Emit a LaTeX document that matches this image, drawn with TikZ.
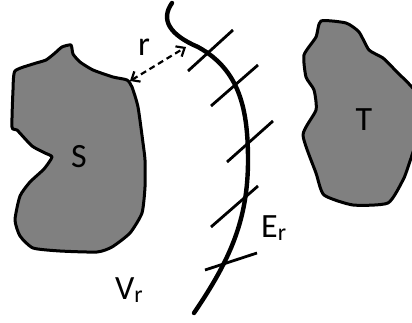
\documentclass[tikz,border=0pt]{standalone}
\usepackage{fontspec}
\setmainfont{Carlito}
\usetikzlibrary{arrows.meta}
\begin{document}
\begin{tikzpicture}[x=1pt,y=-1pt,
  blob/.style={draw=black,fill=black!50,line width=3pt,line join=round},
  curveline/.style={line width=4.4pt,line cap=round},
  tick/.style={line width=2.8pt},
  lbl/.style={font=\fontsize{34}{38}\selectfont,inner sep=0pt},
  distarrow/.style={dash pattern=on 6pt off 4pt,line width=2.2pt,{Straight Barb[length=7pt,width=12pt]}-{Straight Barb[length=7pt,width=12pt]}}]
\useasboundingbox (0,0) rectangle (412,323);
\clip (0,0) rectangle (412,323);
% S region
\draw[blob] plot[smooth cycle,tension=0.35] coordinates {
 (71,45) (62,47) (55,53) (46,60) (33,64) (15,71) (13,90) (12,127) (17,130)
 (32,146) (45,153) (52,157) (44,169) (30,182) (20,196) (15,220) (20,236)
 (33,248) (60,251) (97,252) (112,247) (130,233) (142,213) (145,187)
 (145,160) (143,143) (138,107) (132,87) (127,80) (113,77) (93,70) (80,62) (73,54)};
% T region
\draw[blob] plot[smooth cycle,tension=0.35] coordinates {
 (321,21) (346,23) (359,32) (369,50) (383,58) (397,72) (410,85) (416,95)
 (416,140) (408,167) (403,180) (388,203) (353,205) (324,195) (316,173)
 (303,135) (316,110) (314,90) (306,77) (304,55) (316,37)};
\node[lbl] (S) at (79,157) {S};
\node[lbl] (T) at (364,120) {T};
% curve E_r
\draw[curveline] (172,3) .. controls (160,20) and (170,35) .. (198,47)
  .. controls (240,70) and (248,110) .. (248,160)
  .. controls (248,220) and (230,260) .. (194,313);
% ticks
\coordinate (t1a) at (188,71); \coordinate (t1b) at (233,30);
\coordinate (t2a) at (211,106); \coordinate (t2b) at (258,65);
\coordinate (t3a) at (227,162); \coordinate (t3b) at (273,121);
\coordinate (t4a) at (211,227); \coordinate (t4b) at (258,186);
\coordinate (t5a) at (205,270); \coordinate (t5b) at (257,253);
\draw[tick] (t1a) -- (t1b);
\draw[tick] (t2a) -- (t2b);
\draw[tick] (t3a) -- (t3b);
\draw[tick] (t4a) -- (t4b);
\draw[tick] (t5a) -- (t5b);
% distance arrow
\coordinate (ra) at (130,81);
\coordinate (rb) at (186,47);
\draw[distarrow] (ra) -- (rb);
\node[lbl] (r) at (144,47) {r};
\node[lbl,anchor=base west] (E) at (261,237) {E\textsubscript{r}};
\node[lbl,anchor=base west] (V) at (115,299) {V\textsubscript{r}};
\end{tikzpicture}
\end{document}
